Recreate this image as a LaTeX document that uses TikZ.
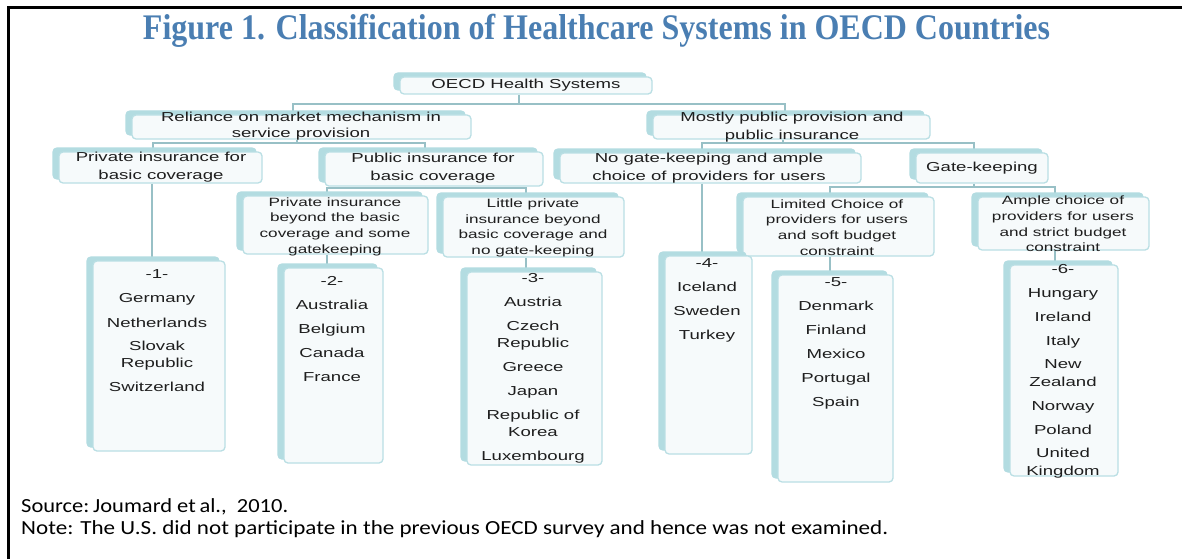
\documentclass[tikz,border=0pt]{standalone}
\usepackage{fontspec}
\usepackage{graphicx}
\usetikzlibrary{shadows,backgrounds}
\newfontfamily\dgfont[FakeStretch=1.43]{Liberation Sans}
\newfontfamily\ftfont{Carlito}
\newfontfamily\ttlfont{Liberation Serif}
\definecolor{shade}{HTML}{B3DCE1}
\definecolor{edge}{HTML}{BADFE4}
\definecolor{paper}{HTML}{F6FAFB}
\definecolor{connc}{HTML}{98C0C6}
\definecolor{ttl}{HTML}{4A7EB2}
\definecolor{ink}{HTML}{1E1E1E}
\begin{document}
\begin{tikzpicture}[x=1pt,y=-1pt,
  box/.style={draw=edge, line width=1.3pt, fill=paper, rounded corners=4pt, inner sep=0pt,
    copy shadow={shadow xshift=-6pt, shadow yshift=4pt, fill=shade, draw=shade}},
  rowtxt/.style={align=center, inner sep=0pt, text=ink, font=\dgfont\fontsize{13}{18}\selectfont},
  smalltxt/.style={align=center, inner sep=0pt, text=ink, font=\dgfont\fontsize{12}{15.7}\selectfont},
  lst/.style={anchor=base, inner sep=0pt, text=ink, font=\dgfont\fontsize{13}{16}\selectfont},
  link/.style={draw=connc, line width=2.8pt}]
\useasboundingbox (0,0) rectangle (1182,559);
\draw[line width=3pt] (8.5,559) -- (8.5,7.5) -- (1182,7.5);

\node[anchor=base, inner sep=0pt] (title) at (596.5,39.5)
  {\color{ttl}\ttlfont\bfseries\fontsize{36}{38}\selectfont\resizebox{907pt}{\height}{Figure 1. Classification of Healthcare Systems in OECD Countries}};

% boxes
\node[box, minimum width=252pt, minimum height=17pt] (oecd) at (526,85.5) {};
\node[box, minimum width=339pt, minimum height=24pt] (rel) at (301.5,127) {};
\node[box, minimum width=277pt, minimum height=24pt] (mostly) at (791.5,127) {};
\node[box, minimum width=203pt, minimum height=31pt] (priv) at (160.5,167.5) {};
\node[box, minimum width=218pt, minimum height=34pt] (pub) at (434,169) {};
\node[box, minimum width=301pt, minimum height=30pt] (nogate) at (710.5,168) {};
\node[box, minimum width=132pt, minimum height=30pt] (gate) at (982,168) {};
\node[box, minimum width=185pt, minimum height=58pt] (pbeyond) at (335.5,225) {};
\node[box, minimum width=181pt, minimum height=60pt] (little) at (533.5,227) {};
\node[box, minimum width=191pt, minimum height=59pt] (limited) at (838.5,226.5) {};
\node[box, minimum width=171pt, minimum height=53pt] (ample) at (1063.5,223.5) {};
\node[box, minimum width=132pt, minimum height=190pt] (b1) at (159,356) {};
\node[box, minimum width=99pt, minimum height=195pt] (b2) at (333.5,365.5) {};
\node[box, minimum width=135pt, minimum height=193pt] (b3) at (534.5,368.5) {};
\node[box, minimum width=87pt, minimum height=198pt] (b4) at (708.5,355) {};
\node[box, minimum width=115pt, minimum height=207pt] (b5) at (835.5,378.5) {};
\node[box, minimum width=108pt, minimum height=211pt] (b6) at (1064,370.5) {};

% box texts
\node[rowtxt] (oecdt) at (526,85) {OECD Health Systems};
\node[rowtxt, font=\dgfont\fontsize{13}{16.5}\selectfont] (relt) at (301,126) {Reliance on market mechanism in\\service provision};
\node[rowtxt, font=\dgfont\fontsize{13}{17.5}\selectfont] (mostlyt) at (792,127) {Mostly public provision and\\public insurance};
\node[rowtxt] (privt) at (161,167) {Private insurance for\\basic coverage};
\node[rowtxt] (pubt) at (433,168) {Public insurance for\\basic coverage};
\node[rowtxt] (nogatet) at (709,168) {No gate-keeping and ample\\choice of providers for users};
\node[rowtxt] (gatet) at (982,168) {Gate-keeping};
\node[smalltxt] (pbeyondt) at (335,226.5) {Private insurance\\beyond the basic\\coverage and some\\gatekeeping};
\node[smalltxt] (littlet) at (533,228) {Little private\\insurance beyond\\basic coverage and\\no gate-keeping};
\node[smalltxt] (limitedt) at (837,227.5) {Limited Choice of\\providers for users\\and soft budget\\constraint};
\node[smalltxt] (amplet) at (1063,224) {Ample choice of\\providers for users\\and strict budget\\constraint};

% lists
\foreach \t/\y [count=\i] in {-1-/274, Germany/298, Netherlands/323, Slovak/346, Republic/363, Switzerland/387}
  \node[lst] (la\i) at (157,\y+4.5) {\t};
\foreach \t/\y [count=\i] in {-2-/281, Australia/305, Belgium/329, Canada/353, France/377}
  \node[lst] (lb\i) at (332,\y+4.5) {\t};
\foreach \t/\y [count=\i] in {-3-/278, Austria/302, Czech/326, Republic/343, Greece/367, Japan/391, Republic of/415, Korea/432, Luxembourg/456}
  \node[lst] (lc\i) at (533,\y+4.5) {\t};
\foreach \t/\y [count=\i] in {-4-/263, Iceland/287, Sweden/311, Turkey/335}
  \node[lst] (ld\i) at (707,\y+4.5) {\t};
\foreach \t/\y [count=\i] in {-5-/282, Denmark/306, Finland/330, Mexico/354, Portugal/378, Spain/402}
  \node[lst] (le\i) at (836,\y+4.5) {\t};
\foreach \t/\y [count=\i] in {-6-/269, Hungary/293, Ireland/317, Italy/341, New/364, Zealand/382, Norway/406, Poland/430, United/453, Kingdom/471}
  \node[lst] (lf\i) at (1063,\y+4.5) {\t};

% connectors
\begin{pgfonlayer}{background}
\fill[white] (0,0) rectangle (1182,559);
\draw[link] (oecd.south -| 519,0) -- (519,104) -| (rel.north -| 293,0);
\draw[link] (519,104) -| (mostly.north -| 785,0);
\draw[link] (rel.south -| 297,0) -- (297,143) -| (priv.north -| 153,0);
\draw[link] (297,143) -| (pub.north -| 425,0);
\draw[link] (mostly.south -| 783,0) -- (783,143) -| (nogate.north -| 702,0);
\draw[link] (783,143) -| (gate.north -| 974,0);
\draw[link] (priv.south -| 152,0) -- (b1.north -| 152,0);
\draw[link] (pub.south -| 425,0) -- (425,188) -| (pbeyond.north -| 327,0);
\draw[link] (425,188) -| (little.north -| 526,0);
\draw[link] (nogate.south -| 702,0) -- (b4.north -| 702,0);
\draw[link] (gate.south -| 974,0) -- (974,187) -| (limited.north -| 830,0);
\draw[link] (974,187) -| (ample.north -| 1055,0);
\draw[link] (pbeyond.south -| 327,0) -- (b2.north -| 327,0);
\draw[link] (little.south -| 526,0) -- (b3.north -| 526,0);
\draw[link] (limited.south -| 830,0) -- (b5.north -| 830,0);
\draw[link] (ample.south -| 1055,0) -- (b6.north -| 1055,0);
\end{pgfonlayer}

% footer
\node[anchor=base west, inner sep=0pt] (src) at (21,512)
  {\ftfont\fontsize{20}{22}\selectfont\resizebox{267pt}{\height}{Source:\,Joumard et\,al.,\ \ 2010.}};
\node[anchor=base west, inner sep=0pt] (note) at (21,534)
  {\ftfont\fontsize{20}{22}\selectfont\resizebox{867pt}{\height}{Note: The U.S. did not participate in the previous OECD survey and hence was not examined.}};
\end{tikzpicture}
\end{document}
